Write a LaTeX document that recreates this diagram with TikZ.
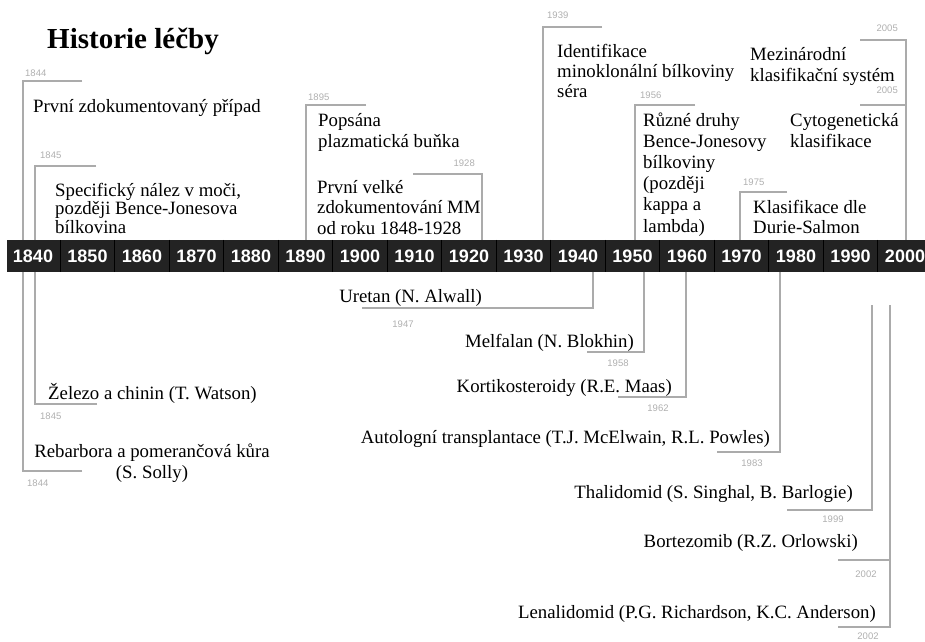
\documentclass[tikz,border=0pt]{standalone}
\usepackage{fontspec}
\setmainfont{Liberation Serif}
\newfontfamily\yearfont{Liberation Sans}
\usetikzlibrary{positioning}
\definecolor{barcol}{HTML}{232323}
\definecolor{linecol}{HTML}{ABABAB}
\definecolor{yearcol}{HTML}{B0B0B0}

\begin{document}
\begin{tikzpicture}[x=1pt, y=-1pt,
    event/.style={inner sep=0pt, align=left, anchor=base west, font=\fontsize{18.8}{20.5}\selectfont},
    eventr/.style={event, anchor=base east},
    yearlbl/.style={inner sep=0pt, text=yearcol, font=\yearfont\fontsize{9.5}{10}\selectfont},
    bracket/.style={draw=linecol, line width=1.6pt},
    decade/.style={minimum width=54.5pt, minimum height=32pt, inner sep=0pt, text=white, font=\yearfont\bfseries\fontsize{18}{20}\selectfont}
  ]
  \useasboundingbox[fill=white] (0,0) rectangle (925,641);

  \node[anchor=base west, inner sep=0pt, font=\bfseries\fontsize{29}{34}\selectfont] (title) at (47,48) {Historie léčby};

  % events above the timeline (base = last line)
  \node[event] (prvni) at (33,112) {První zdokumentovaný případ};
  \node[event, font=\fontsize{18.8}{18.5}\selectfont] (specif) at (55,233) {Specifický nález v moči,\\později Bence-Jonesova\\bílkovina};
  \node[event] (popsana) at (318,147) {Popsána\\plazmatická buňka};
  \node[event] (velke) at (317,234) {První velké\\zdokumentování MM\\od roku 1848-1928};
  \node[event, font=\fontsize{18.8}{20}\selectfont] (ident) at (557,97) {Identifikace\\minoklonální bílkoviny\\séra};
  \node[event, font=\fontsize{18.8}{21.2}\selectfont] (druhy) at (643,232) {Různé druhy\\Bence-Jonesovy\\bílkoviny\\(později\\kappa a\\lambda)};
  \node[event, font=\fontsize{18.8}{20}\selectfont] (durie) at (753,233) {Klasifikace dle\\Durie-Salmon};
  \node[event] (mezin) at (750,81) {Mezinárodní\\klasifikační systém};
  \node[event] (cyto) at (790,147) {Cytogenetická\\klasifikace};

  % events below the timeline
  \node[event] (zelezo) at (48,399) {Železo a chinin (T. Watson)};
  \node[event, align=center, anchor=base] (rebarb) at (152,478) {Rebarbora a pomerančová kůra\\(S. Solly)};
  \node[eventr] (uretan) at (482,302) {Uretan (N. Alwall)};
  \node[eventr] (melf) at (634,347) {Melfalan (N. Blokhin)};
  \node[eventr] (korti) at (672,392) {Kortikosteroidy (R.E. Maas)};
  \node[eventr] (autol) at (770,443) {Autologní transplantace (T.J. McElwain, R.L. Powles)};
  \node[eventr] (thali) at (853,498) {Thalidomid (S. Singhal, B. Barlogie)};
  \node[eventr] (bortez) at (858,547) {Bortezomib (R.Z. Orlowski)};
  \node[eventr] (lenal) at (876,618) {Lenalidomid (P.G. Richardson, K.C. Anderson)};

  % year labels
  \node[yearlbl, anchor=west] (l1844a) at (25,73) {1844};
  \node[yearlbl, anchor=west] (l1845a) at (40,155) {1845};
  \node[yearlbl, anchor=west] (l1895) at (308,97) {1895};
  \node[yearlbl, anchor=east] (l1928) at (475,163) {1928};
  \node[yearlbl, anchor=west] (l1939) at (547,15) {1939};
  \node[yearlbl, anchor=west] (l1956) at (640,95) {1956};
  \node[yearlbl, anchor=west] (l1975) at (743,182) {1975};
  \node[yearlbl, anchor=east] (l2005a) at (898,28) {2005};
  \node[yearlbl, anchor=east] (l2005b) at (898,90) {2005};
  \node[yearlbl, anchor=west] (l1845b) at (40,416) {1845};
  \node[yearlbl, anchor=west] (l1844b) at (27,483) {1844};
  \node[yearlbl] (l1947) at (403,324) {1947};
  \node[yearlbl] (l1958) at (618,363) {1958};
  \node[yearlbl] (l1962) at (658,408) {1962};
  \node[yearlbl] (l1983) at (752,463) {1983};
  \node[yearlbl] (l1999) at (833,519) {1999};
  \node[yearlbl] (l2002a) at (866,574) {2002};
  \node[yearlbl] (l2002b) at (868,636) {2002};

  % bracket corners and ends
  \coordinate (c1844a) at (23,81);   \coordinate (e1844a) at (82,81);
  \coordinate (c1845a) at (35,166);  \coordinate (e1845a) at (96,166);
  \coordinate (c1895) at (306,105);  \coordinate (e1895) at (366,105);
  \coordinate (c1928) at (482,174);  \coordinate (e1928) at (413,174);
  \coordinate (c1939) at (543,27);   \coordinate (e1939) at (602,27);
  \coordinate (c1956) at (635,105);  \coordinate (e1956) at (695,105);
  \coordinate (c1975) at (740,192);  \coordinate (e1975) at (787,192);
  \coordinate (c2005a) at (906,40);  \coordinate (e2005a) at (860,40);
  \coordinate (c2005b) at (906,105); \coordinate (e2005b) at (860,105);
  \coordinate (c1845b) at (35,404);  \coordinate (e1845b) at (97,404);
  \coordinate (c1844b) at (23,471);  \coordinate (e1844b) at (82,471);
  \coordinate (c1947) at (593,308);  \coordinate (e1947) at (362,308);
  \coordinate (c1958) at (644,352);  \coordinate (e1958) at (587,352);
  \coordinate (c1962) at (686,397);  \coordinate (e1962) at (618,397);
  \coordinate (c1983) at (780,452);  \coordinate (e1983) at (717,452);
  \coordinate (c1999) at (872,510);  \coordinate (e1999) at (787,510);
  \coordinate (c2002a) at (890,560); \coordinate (e2002a) at (838,560);
  \coordinate (c2002b) at (890,627); \coordinate (e2002b) at (838,627);
  \coordinate (s1999) at (872,305);  \coordinate (s2002) at (890,305);

  % the timeline bar
  \node[fill=barcol, minimum width=918pt, minimum height=32pt, inner sep=0pt, anchor=west] (bar) at (7,256) {};

  \foreach \c in {1844a,1845a,1895,1928,1939,1956,1975,2005a,2005b}
    \draw[bracket] (e\c) -- (c\c) -- (c\c |- bar.north);
  \foreach \c in {1845b,1844b,1947,1958,1962,1983}
    \draw[bracket] (e\c) -- (c\c) -- (c\c |- bar.south);
  \draw[bracket] (e1999) -- (c1999) -- (s1999);
  \draw[bracket] (e2002a) -- (c2002a) -- (s2002);
  \draw[bracket] (e2002b) -- (c2002b) -- (c2002a);

  \foreach \yr [count=\i from 0] in {1840,1850,...,2000}
    \node[decade] (d\yr) at (33+54.5*\i,256) {\yr};
  \foreach \yr in {1840,1850,...,1990}
    \draw[black, line width=1pt] (d\yr.north east) -- (d\yr.south east);
\end{tikzpicture}
\end{document}
